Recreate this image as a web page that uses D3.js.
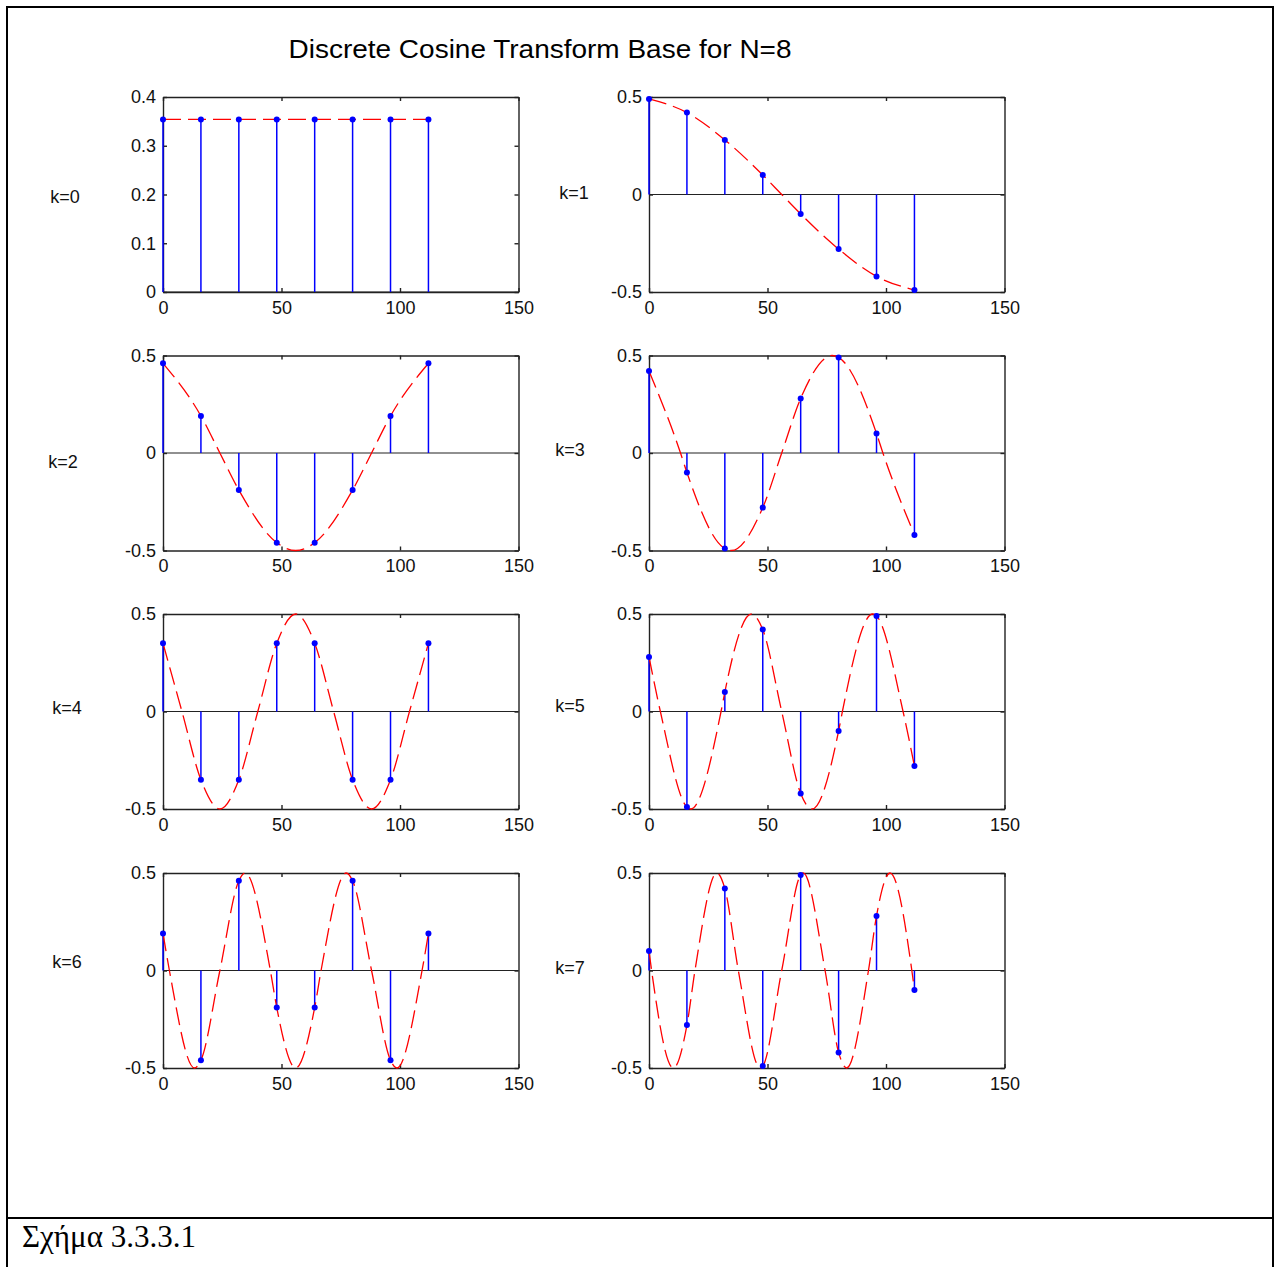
<!DOCTYPE html>
<html>
<head>
<meta charset="utf-8">
<script src="https://cdn.jsdelivr.net/npm/d3@7"></script>
<style>
  body { margin: 0; background: #fff; }
  text { font-family: "Liberation Sans", Arial, sans-serif; fill: #111; }
</style>
</head>
<body>
<script>
// sample positions of the 8 basis vectors
const nPos = [0, 16, 32, 48, 64, 80, 96, 112];
const xTicks = [0, 50, 100, 150];
const yTicksK0 = [0, 0.1, 0.2, 0.3, 0.4];
const yTicks = [-0.5, 0, 0.5];
const kLabels = ["k=0", "k=1", "k=2", "k=3", "k=4", "k=5", "k=6", "k=7"];

// stem heights
const stemK0 = [0.354, 0.354, 0.354, 0.354, 0.354, 0.354, 0.354, 0.354];
const stemK1 = [0.49, 0.42, 0.28, 0.10, -0.10, -0.28, -0.42, -0.49];
const stemK2 = [0.46, 0.19, -0.19, -0.46, -0.46, -0.19, 0.19, 0.46];
const stemK3 = [0.42, -0.10, -0.49, -0.28, 0.28, 0.49, 0.10, -0.42];
const stemK4 = [0.35, -0.35, -0.35, 0.35, 0.35, -0.35, -0.35, 0.35];
const stemK5 = [0.28, -0.49, 0.10, 0.42, -0.42, -0.10, 0.49, -0.28];
const stemK6 = [0.19, -0.46, 0.46, -0.19, -0.19, 0.46, -0.46, 0.19];
const stemK7 = [0.10, -0.28, 0.42, -0.49, 0.49, -0.42, 0.28, -0.10];

// extra points of the dashed red curve (peaks and zero crossings), [x, y]
const curveK0 = [];
const curveK1 = [[56, 0]];
const curveK2 = [[24, 0], [56, -0.5], [88, 0]];
const curveK3 = [[13.3, 0], [34.7, -0.5], [56, 0], [77.3, 0.5], [98.7, 0]];
const curveK4 = [[8, 0], [24, -0.5], [40, 0], [56, 0.5], [72, 0], [88, -0.5], [104, 0]];
const curveK5 = [[4.8, 0], [17.6, -0.5], [30.4, 0], [43.2, 0.5], [56, 0], [68.8, -0.5],
                 [81.6, 0], [94.4, 0.5], [107.2, 0]];
const curveK6 = [[2.7, 0], [13.3, -0.5], [24, 0], [34.7, 0.5], [45.3, 0], [56, -0.5],
                 [66.7, 0], [77.3, 0.5], [88, 0], [98.7, -0.5], [109.3, 0]];
const curveK7 = [[1.1, 0], [10.3, -0.5], [19.4, 0], [28.6, 0.5], [37.7, 0], [46.9, -0.5],
                 [56, 0], [65.1, 0.5], [74.3, 0], [83.4, -0.5], [92.6, 0], [101.7, 0.5], [110.9, 0]];

const stems = [stemK0, stemK1, stemK2, stemK3, stemK4, stemK5, stemK6, stemK7];
const curves = [curveK0, curveK1, curveK2, curveK3, curveK4, curveK5, curveK6, curveK7];

const width = 1277, height = 1267;
const colLeft = [163, 649], plotW = 355.5;
const rowTop = [97, 355.5, 614, 873], plotH = 195;
// where the k=.. labels sit, relative to the plot's left edge / top
const labelPos = [[-98, 100], [-75, 96], [-100, 106], [-79, 94], [-96, 94], [-79, 92], [-96, 89], [-79, 95]];

const svg = d3.select("body").append("svg")
  .attr("width", width)
  .attr("height", height);

// document frame
svg.append("rect")
  .attr("x", 7).attr("y", 7)
  .attr("width", 1266).attr("height", 1300)
  .attr("fill", "none").attr("stroke", "#000").attr("stroke-width", 2);
svg.append("line")
  .attr("x1", 7).attr("x2", 1273).attr("y1", 1218).attr("y2", 1218)
  .attr("stroke", "#000").attr("stroke-width", 2);
svg.append("text")
  .attr("x", 22).attr("y", 1247)
  .style("font-family", "'Liberation Serif', 'Times New Roman', serif")
  .style("font-size", "31px")
  .style("fill", "#000")
  .text("Σχήμα 3.3.3.1");

svg.append("text")
  .attr("x", 540).attr("y", 58)
  .attr("text-anchor", "middle")
  .attr("textLength", 503)
  .attr("lengthAdjust", "spacingAndGlyphs")
  .style("font-size", "26px")
  .style("fill", "#000")
  .text("Discrete Cosine Transform Base for N=8");

const fmt = d => String(d);

stems.forEach((vals, k) => {
  const x0 = colLeft[k % 2], y0 = rowTop[Math.floor(k / 2)];
  const g = svg.append("g").attr("transform", `translate(${x0},${y0})`);

  const xScale = d3.scaleLinear().domain([0, 150]).range([0, plotW]);
  const yScale = d3.scaleLinear()
    .domain(k === 0 ? [0, 0.4] : [-0.5, 0.5])
    .range([plotH, 0]);
  const yt = k === 0 ? yTicksK0 : yTicks;

  // axes, ticks pointing inwards
  const ax = [
    g.append("g").attr("transform", `translate(0,${plotH})`)
      .call(d3.axisBottom(xScale).tickValues(xTicks).tickFormat(fmt).tickSizeInner(-4).tickSizeOuter(0).tickPadding(9)),
    g.append("g")
      .call(d3.axisTop(xScale).tickValues(xTicks).tickFormat("").tickSizeInner(-4).tickSizeOuter(0)),
    g.append("g")
      .call(d3.axisLeft(yScale).tickValues(yt).tickFormat(fmt).tickSizeInner(-4).tickSizeOuter(0).tickPadding(7)),
    g.append("g").attr("transform", `translate(${plotW},0)`)
      .call(d3.axisRight(yScale).tickValues(yt).tickFormat("").tickSizeInner(-4).tickSizeOuter(0))
  ];
  ax.forEach(a => {
    a.selectAll("path, line").attr("stroke", "#222").attr("stroke-width", 1.4);
    a.selectAll("text").style("font-size", "18px").style("fill", "#111")
      .style("font-family", "'Liberation Sans', Arial, sans-serif");
  });

  // stem baseline
  g.append("line")
    .attr("x1", 0).attr("x2", plotW)
    .attr("y1", yScale(0)).attr("y2", yScale(0))
    .attr("stroke", "#222").attr("stroke-width", 1.2);

  g.selectAll(".stem")
    .data(vals)
    .enter()
    .append("line")
      .attr("x1", (d, i) => xScale(nPos[i]))
      .attr("x2", (d, i) => xScale(nPos[i]))
      .attr("y1", yScale(0))
      .attr("y2", d => yScale(d))
      .attr("stroke", "#0000ff")
      .attr("stroke-width", 1.5);

  // dashed continuous cosine
  const pts = vals.map((v, i) => [nPos[i], v]).concat(curves[k])
    .sort((a, b) => a[0] - b[0]);
  const line = d3.line()
    .x(d => xScale(d[0]))
    .y(d => yScale(d[1]))
    .curve(d3.curveMonotoneX);
  g.append("path")
    .datum(pts)
    .attr("d", line)
    .attr("fill", "none")
    .attr("stroke", "#ff0000")
    .attr("stroke-width", 1.3)
    .attr("stroke-dasharray", "18,7");

  g.selectAll(".dot")
    .data(vals)
    .enter()
    .append("circle")
      .attr("cx", (d, i) => xScale(nPos[i]))
      .attr("cy", d => yScale(d))
      .attr("r", 3)
      .attr("fill", "#0000ff");

  g.append("text")
    .attr("x", labelPos[k][0])
    .attr("y", labelPos[k][1])
    .attr("dy", "0.35em")
    .attr("text-anchor", "middle")
    .style("font-size", "18px")
    .text(kLabels[k]);
});
</script>
</body>
</html>
